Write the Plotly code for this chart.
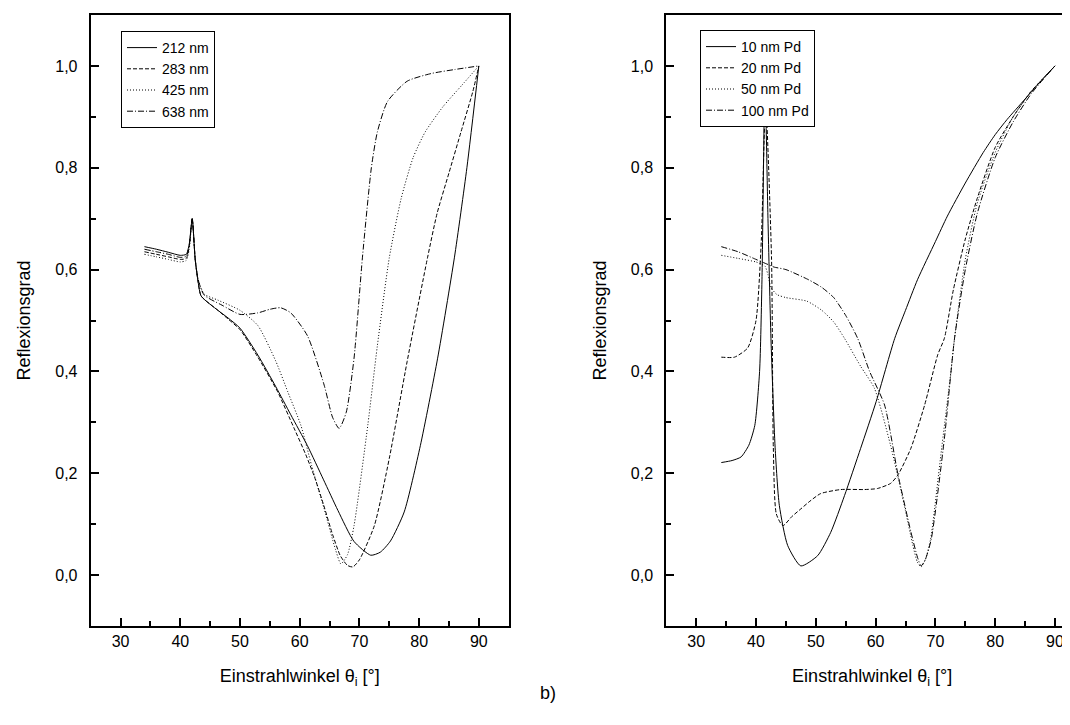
import plotly.graph_objects as go

# ---------------- Left panel: wavelength series ----------------
L212_x = [34, 36, 38, 40, 41, 41.5, 42, 42.5, 43, 43.5, 46.3, 48, 50, 53, 56, 58.5, 61.3, 64, 66.4, 69.1, 71.9, 73.5, 75.2, 77.5, 80.2, 83.1, 85.9, 88, 90]
L212_y = [0.645, 0.64, 0.634, 0.628, 0.63, 0.65, 0.70, 0.62, 0.575, 0.548, 0.52, 0.505, 0.485, 0.432, 0.37, 0.315, 0.254, 0.187, 0.127, 0.066, 0.039, 0.045, 0.067, 0.124, 0.254, 0.426, 0.623, 0.80, 1.0]

L283_x = [34, 36, 38, 40, 41, 41.5, 42, 42.5, 43, 43.5, 46.3, 48, 50, 53, 56.3, 59, 61, 62.5, 64, 65.5, 66.8, 68, 68.9, 70, 72.5, 75, 78, 81.4, 83, 85, 87, 89, 90]
L283_y = [0.635, 0.63, 0.625, 0.62, 0.622, 0.645, 0.70, 0.62, 0.575, 0.548, 0.52, 0.503, 0.482, 0.428, 0.36, 0.29, 0.237, 0.192, 0.138, 0.08, 0.038, 0.019, 0.016, 0.03, 0.097, 0.229, 0.42, 0.623, 0.71, 0.79, 0.87, 0.95, 1.0]

L425_x = [34, 36, 38, 40, 41, 41.5, 42, 42.5, 43, 44, 46.3, 50, 53, 56, 58, 60.2, 62, 64.1, 66, 66.9, 68, 69.1, 71.4, 73, 75, 77, 79, 81, 84, 87, 90]
L425_y = [0.63, 0.625, 0.62, 0.615, 0.618, 0.64, 0.70, 0.62, 0.58, 0.552, 0.54, 0.52, 0.49, 0.42, 0.36, 0.294, 0.215, 0.13, 0.05, 0.022, 0.04, 0.097, 0.294, 0.45, 0.623, 0.74, 0.82, 0.87, 0.92, 0.96, 1.0]

L638_x = [34, 36, 38, 40, 41, 41.5, 42, 42.5, 43, 44, 47, 50, 53, 55, 56.8, 58.5, 61.3, 64.1, 65.5, 66.6, 67.8, 69.1, 70.5, 72, 73, 74.7, 78, 82, 86, 90]
L638_y = [0.64, 0.635, 0.63, 0.624, 0.626, 0.648, 0.70, 0.62, 0.58, 0.55, 0.53, 0.512, 0.515, 0.522, 0.525, 0.515, 0.47, 0.373, 0.31, 0.288, 0.32, 0.426, 0.623, 0.80, 0.87, 0.93, 0.97, 0.985, 0.993, 1.0]

# ---------------- Right panel: Pd thickness series ----------------
R10_x = [34.2, 36, 37.5, 38.8, 39.8, 40.6, 41.0, 41.5, 42.0, 42.5, 43.2, 43.9, 45.3, 47.5, 50.3, 52.5, 54.8, 57.5, 60.1, 63.2, 65, 67, 70, 72, 75, 78, 80, 82, 85, 88, 90]
R10_y = [0.221, 0.225, 0.232, 0.255, 0.294, 0.40, 0.58, 0.97, 0.70, 0.465, 0.25, 0.137, 0.058, 0.018, 0.038, 0.084, 0.156, 0.249, 0.341, 0.465, 0.52, 0.58, 0.655, 0.705, 0.77, 0.83, 0.865, 0.895, 0.935, 0.975, 1.0]

R20_x = [34.2, 36.4, 38.6, 40.0, 40.9, 41.6, 42.6, 42.9, 43.4, 44.5, 46, 47.5, 49, 50.8, 54.2, 58.1, 60.3, 62.5, 63.7, 65.9, 68.2, 70.4, 71.5, 73, 75, 77, 80, 83, 86, 88, 90]
R20_y = [0.428, 0.428, 0.446, 0.50, 0.66, 0.93, 0.62, 0.25, 0.12, 0.097, 0.115, 0.13, 0.145, 0.16, 0.168, 0.168, 0.17, 0.18, 0.196, 0.249, 0.334, 0.433, 0.465, 0.56, 0.66, 0.74, 0.84, 0.90, 0.95, 0.975, 1.0]

R50_x = [34.2, 37, 40, 41, 41.5, 42, 42.5, 43.5, 45, 48.5, 51, 53, 54.8, 57.5, 59.8, 62.5, 64.8, 66.2, 67, 67.6, 68.3, 69.2, 70.9, 72.6, 73.2, 75, 77, 80, 83, 86, 90]
R50_y = [0.628, 0.622, 0.615, 0.61, 0.607, 0.59, 0.565, 0.551, 0.545, 0.538, 0.52, 0.497, 0.465, 0.41, 0.367, 0.255, 0.137, 0.06, 0.025, 0.016, 0.03, 0.071, 0.235, 0.40, 0.465, 0.62, 0.73, 0.83, 0.90, 0.95, 1.0]

R100_x = [34.2, 37, 40, 41, 42, 43, 45, 48.8, 51, 53, 55, 57, 59, 61.5, 63.7, 65.9, 67, 67.6, 68.3, 69.3, 71.5, 73.2, 75, 77, 80, 83, 86, 90]
R100_y = [0.645, 0.635, 0.62, 0.615, 0.61, 0.605, 0.60, 0.58, 0.565, 0.545, 0.51, 0.465, 0.40, 0.334, 0.20, 0.085, 0.035, 0.018, 0.03, 0.07, 0.268, 0.465, 0.60, 0.71, 0.82, 0.89, 0.945, 1.0]

DASHES = {"solid": "solid", "dash": "4px,2px", "dot": "1px,2px", "dashdot": "6px,2px,1px,2px"}

left_series = [("212 nm", L212_x, L212_y, "solid"),
               ("283 nm", L283_x, L283_y, "dash"),
               ("425 nm", L425_x, L425_y, "dot"),
               ("638 nm", L638_x, L638_y, "dashdot")]
right_series = [("10 nm Pd", R10_x, R10_y, "solid"),
                ("20 nm Pd", R20_x, R20_y, "dash"),
                ("50 nm Pd", R50_x, R50_y, "dot"),
                ("100 nm Pd", R100_x, R100_y, "dashdot")]

FONT = "Liberation Sans, Arial, sans-serif"
fig = go.Figure()
for name, xs, ys, dash in left_series:
    fig.add_trace(go.Scatter(x=xs, y=ys, name=name, mode="lines", xaxis="x", yaxis="y",
                             line=dict(color="black", width=1, dash=DASHES[dash], shape="spline", smoothing=0.6),
                             legend="legend"))
for name, xs, ys, dash in right_series:
    fig.add_trace(go.Scatter(x=xs, y=ys, name=name, mode="lines", xaxis="x2", yaxis="y2",
                             line=dict(color="black", width=1, dash=DASHES[dash], shape="spline", smoothing=0.6),
                             legend="legend2"))

W, H = 1070, 725
top_px, bot_px = 7, 618
def px_x(p):
    return p / W
def px_y(p):
    return (bot_px - p) / (bot_px - top_px)

def xax(domain, anchor):
    return dict(domain=domain, anchor=anchor, range=[25, 95], tick0=0, dtick=10,
                showline=True, linecolor="black", linewidth=2, mirror=True,
                ticks="inside", ticklen=8, tickwidth=2, tickcolor="black",
                showgrid=False, zeroline=False, ticklabeloverflow="allow",
                tickfont=dict(family=FONT, size=16, color="black"),
                minor=dict(ticks="inside", ticklen=5, tickwidth=2, tickcolor="black", dtick=5, tick0=0),
                title=dict(text="Einstrahlwinkel θ<sub>i</sub> [°]", font=dict(family=FONT, size=18, color="black"), standoff=20))

def yax(anchor, mirror):
    return dict(anchor=anchor, domain=[0, 1], range=[-0.1, 1.1], tick0=0, dtick=0.2, tickformat=".1f",
                showline=True, linecolor="black", linewidth=2, mirror=mirror,
                ticks="inside", ticklen=8, tickwidth=2, tickcolor="black",
                showgrid=False, zeroline=False, ticklabelstandoff=8,
                tickfont=dict(family=FONT, size=16, color="black"),
                minor=dict(ticks="inside", ticklen=5, tickwidth=2, tickcolor="black", dtick=0.1, tick0=0),
                title=dict(text="Reflexionsgrad", font=dict(family=FONT, size=18, color="black"), standoff=20))

leg_common = dict(bgcolor="white", bordercolor="black", borderwidth=1,
                  font=dict(family=FONT, size=14, color="black"),
                  xanchor="left", yanchor="top", tracegroupgap=0)

fig.update_layout(
    width=W, height=H,
    margin=dict(l=0, r=0, t=top_px, b=H - bot_px),
    paper_bgcolor="white", plot_bgcolor="white",
    separators=", ",
    xaxis=xax([px_x(82.7), px_x(500.7)], "y"),
    yaxis=yax("x", True),
    xaxis2=xax([px_x(658.3), 1.0], "y2"),
    yaxis2=yax("x2", False),
    legend=dict(x=px_x(113), y=px_y(23), **leg_common),
    legend2=dict(x=px_x(692), y=px_y(22), **leg_common),
    annotations=[dict(text="b)", x=px_x(540), y=px_y(697), xref="paper", yref="paper",
                      showarrow=False, font=dict(family=FONT, size=18, color="black"))],
)
fig.layout.xaxis2.range = [25, 25 + (W - 658.3) / 5.98]

fig.write_html("out.html")
